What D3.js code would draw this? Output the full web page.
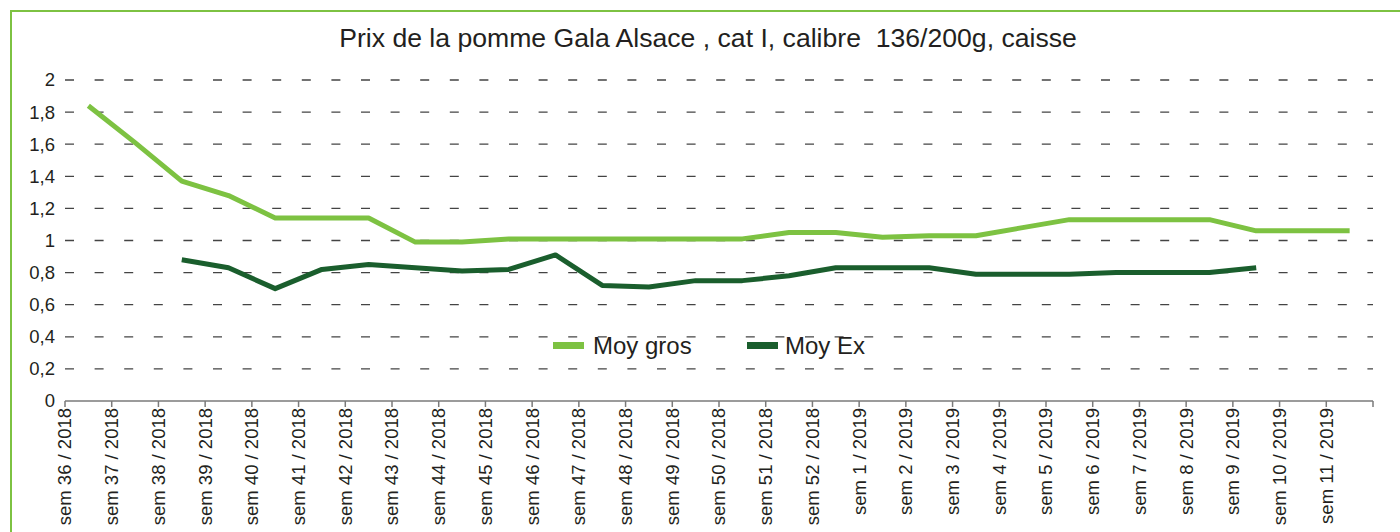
<!DOCTYPE html>
<html>
<head>
<meta charset="utf-8">
<script src="https://cdn.jsdelivr.net/npm/d3@7"></script>
<style>
  body { margin: 0; background: #fff; }
  svg { display: block; font-family: "Liberation Sans", Arial, sans-serif; }
</style>
</head>
<body>
<svg id="chart" width="1400" height="532"></svg>
<script>
const title = "Prix de la pomme Gala Alsace , cat I, calibre  136/200g, caisse";

const weeks = [
  "sem 36 / 2018", "sem 37 / 2018", "sem 38 / 2018", "sem 39 / 2018", "sem 40 / 2018",
  "sem 41 / 2018", "sem 42 / 2018", "sem 43 / 2018", "sem 44 / 2018", "sem 45 / 2018",
  "sem 46 / 2018", "sem 47 / 2018", "sem 48 / 2018", "sem 49 / 2018", "sem 50 / 2018",
  "sem 51 / 2018", "sem 52 / 2018", "sem 1 / 2019", "sem 2 / 2019", "sem 3 / 2019",
  "sem 4 / 2019", "sem 5 / 2019", "sem 6 / 2019", "sem 7 / 2019", "sem 8 / 2019",
  "sem 9 / 2019", "sem 10 / 2019", "sem 11 / 2019"
];

const moyGros = [
  1.84, 1.61, 1.37, 1.28, 1.14, 1.14, 1.14, 0.99, 0.99, 1.01,
  1.01, 1.01, 1.01, 1.01, 1.01, 1.05, 1.05, 1.02, 1.03, 1.03,
  1.08, 1.13, 1.13, 1.13, 1.13, 1.06, 1.06, 1.06
];

const moyEx = [
  null, null, 0.88, 0.83, 0.70, 0.82, 0.85, 0.83, 0.81, 0.82,
  0.91, 0.72, 0.71, 0.75, 0.75, 0.78, 0.83, 0.83, 0.83, 0.79,
  0.79, 0.79, 0.80, 0.80, 0.80, 0.83, null, null
];

const yTicks = [0, 0.2, 0.4, 0.6, 0.8, 1, 1.2, 1.4, 1.6, 1.8, 2];

const series = [
  { name: "Moy gros", values: moyGros, color: "#7dc242" },
  { name: "Moy Ex", values: moyEx, color: "#1a5e2d" }
];

const svg = d3.select("#chart");
const width = 1400, height = 532;
const margin = { top: 80, right: 27, bottom: 131, left: 65 };

// cadre vert
svg.append("rect")
  .attr("x", 11).attr("y", 11)
  .attr("width", width + 20).attr("height", height + 20)
  .attr("fill", "none")
  .attr("stroke", "#7dc242")
  .attr("stroke-width", 2);

svg.append("text")
  .attr("x", 708).attr("y", 47)
  .attr("text-anchor", "middle")
  .attr("font-size", 26.6)
  .attr("fill", "#231f20")
  .style("white-space", "pre")
  .text(title);

const x = d3.scaleBand()
  .domain(weeks)
  .range([margin.left, width - margin.right]);

const y = d3.scaleLinear()
  .domain([0, 2])
  .range([height - margin.bottom, margin.top]);

// grille pointillée
svg.append("g")
  .selectAll("line")
  .data(yTicks.filter(d => d > 0))
  .join("line")
  .attr("x1", margin.left).attr("x2", width - margin.right)
  .attr("y1", d => y(d)).attr("y2", d => y(d))
  .attr("stroke", "#444")
  .attr("stroke-width", 1.3)
  .attr("stroke-dasharray", "9,20.6");

// axe y (labels seulement)
const yAxis = svg.append("g")
  .attr("transform", `translate(${margin.left},0)`)
  .call(d3.axisLeft(y).tickValues(yTicks).tickSize(0).tickPadding(10)
    .tickFormat(d => String(d).replace(".", ",")));
yAxis.select(".domain").remove();
yAxis.selectAll("text")
  .attr("font-size", 18.5)
  .attr("font-family", "Liberation Sans, Arial, sans-serif")
  .attr("fill", "#231f20");

// axe x : traits aux limites des catégories, labels sur le bord gauche
const xg = svg.append("g");
xg.append("line")
  .attr("x1", margin.left).attr("x2", width - margin.right)
  .attr("y1", y(0)).attr("y2", y(0))
  .attr("stroke", "#7a7a7a").attr("stroke-width", 1.5);

const bounds = weeks.map(w => x(w)).concat([x.range()[1]]);
xg.selectAll(".tick-mark")
  .data(bounds)
  .join("line")
  .attr("class", "tick-mark")
  .attr("x1", d => d).attr("x2", d => d)
  .attr("y1", y(0)).attr("y2", y(0) + 6)
  .attr("stroke", "#7a7a7a").attr("stroke-width", 1.5);

xg.selectAll(".xlabel")
  .data(weeks)
  .join("text")
  .attr("class", "xlabel")
  .attr("transform", d => `translate(${x(d)},${y(0) + 7}) rotate(-90)`)
  .attr("dy", "0.35em")
  .attr("text-anchor", "end")
  .attr("font-size", 18.5)
  .attr("fill", "#231f20")
  .text(d => d);

// lignes
const line = d3.line()
  .defined(d => d.v != null)
  .x(d => x(d.w) + x.bandwidth() / 2)
  .y(d => y(d.v));

series.forEach(s => {
  svg.append("path")
    .datum(weeks.map((w, i) => ({ w, v: s.values[i] })))
    .attr("fill", "none")
    .attr("stroke", s.color)
    .attr("stroke-width", 5)
    .attr("stroke-linejoin", "round")
    .attr("d", line);
});

// légende
const legendPos = [553, 747];
const legend = svg.append("g");
series.forEach((s, i) => {
  const g = legend.append("g").attr("transform", `translate(${legendPos[i]},345.5)`);
  g.append("rect")
    .attr("x", 0).attr("y", -3.5)
    .attr("width", 31).attr("height", 7)
    .attr("fill", s.color);
  g.append("text")
    .attr("x", i === 0 ? 40 : 38).attr("y", 0)
    .attr("dy", "0.35em")
    .attr("font-size", 24)
    .attr("fill", "#231f20")
    .text(s.name);
});
</script>
</body>
</html>
